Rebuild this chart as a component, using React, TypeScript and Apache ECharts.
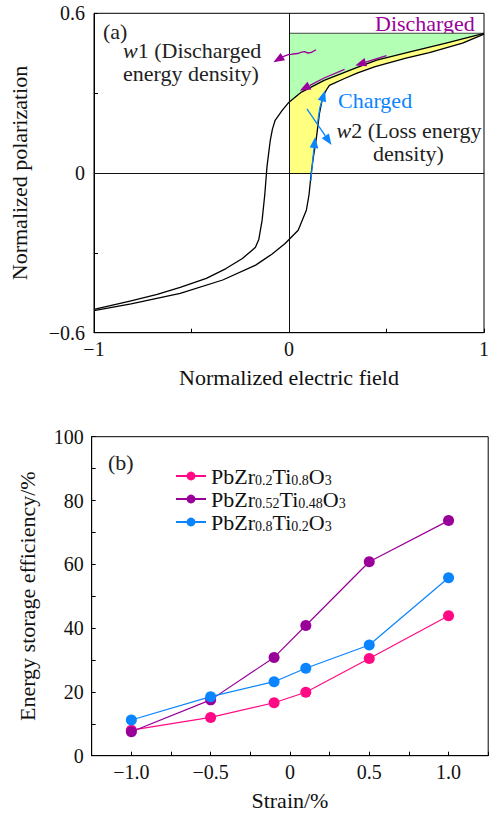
import React, { useEffect, useRef } from 'react';
import * as echarts from 'echarts';

const FONT = 'Liberation Serif';
const NAME_SIZE = 22;
const TICK_SIZE = 20;

// ---- Panel (a): hysteresis loop ----
const dischargeBranch: number[][] = [
  [1.0, 0.525], [0.8, 0.487], [0.62, 0.455], [0.45, 0.424], [0.35, 0.397],
  [0.18, 0.348], [0.064, 0.304], [0.0, 0.266], [-0.035, 0.235], [-0.071, 0.198],
  [-0.085, 0.165], [-0.096, 0.123], [-0.113, 0.023], [-0.124, -0.08], [-0.138, -0.178],
  [-0.155, -0.25], [-0.172, -0.279], [-0.189, -0.29], [-0.239, -0.321], [-0.323, -0.359],
  [-0.424, -0.396], [-0.558, -0.43], [-0.676, -0.456], [-0.81, -0.48], [-1.0, -0.512],
];
const chargeBranch: number[][] = [
  [-1.0, -0.517], [-0.81, -0.492], [-0.558, -0.452], [-0.34, -0.402], [-0.171, -0.346],
  [-0.088, -0.305], [-0.02, -0.265], [0.047, -0.215], [0.089, -0.14], [0.103, -0.08],
  [0.114, 0.0], [0.125, 0.06], [0.139, 0.123], [0.156, 0.223], [0.173, 0.285],
  [0.19, 0.31], [0.207, 0.329], [0.282, 0.354], [0.349, 0.375], [0.442, 0.4],
  [0.6, 0.432], [0.72, 0.452], [0.89, 0.488], [1.0, 0.522],
];
const pMax = 0.525;

const xTicksA = [-1, 0, 1];
const yTicksA = [-0.6, 0, 0.6];

type Arrow = { color: string; pts: number[][] };
const PURPLE = '#990099';
const BLUE = '#0a84ff';
const arrows: Arrow[] = [
  { color: PURPLE, pts: [[0.5, 0.441], [0.34, 0.404]] },
  { color: PURPLE, pts: [[0.285, 0.389], [0.18, 0.357], [0.055, 0.309]] },
  {
    color: PURPLE,
    pts: [[0.139, 0.463], [0.115, 0.453], [0.097, 0.451], [0.08, 0.456], [0.064, 0.454],
      [0.045, 0.449], [0.03, 0.448], [0.01, 0.446], [-0.004, 0.445], [-0.037, 0.435], [-0.08, 0.416]],
  },
  { color: BLUE, pts: [[0.112, -0.03], [0.122, 0.05], [0.134, 0.135]] },
  { color: BLUE, pts: [[0.147, 0.19], [0.158, 0.245], [0.185, 0.31]] },
  { color: BLUE, pts: [[0.092, 0.241], [0.218, 0.105]] },
];

// ---- Panel (b): efficiency vs strain ----
const strain = [-1.0, -0.5, -0.1, 0.1, 0.5, 1.0];
const pzt2080 = [8.0, 12.0, 16.6, 19.9, 30.5, 43.9];
const pzt5248 = [7.5, 17.5, 30.8, 40.8, 60.8, 73.7];
const pzt8020 = [11.2, 18.5, 23.2, 27.4, 34.7, 55.8];
const seriesNames = ['PbZr0.2Ti0.8O3', 'PbZr0.52Ti0.48O3', 'PbZr0.8Ti0.2O3'];
const seriesRich = [
  'PbZr{s|0.2}Ti{s|0.8}O{s|3}',
  'PbZr{s|0.52}Ti{s|0.48}O{s|3}',
  'PbZr{s|0.8}Ti{s|0.2}O{s|3}',
];
const seriesColors = ['#ff0a84', '#990099', '#0a84ff'];

const fmtNum = (v: number, digits: number) => {
  if (Math.abs(v) < 1e-9) return '0';
  return (v < 0 ? '\u2212' : '') + Math.abs(v).toFixed(digits);
};

function buildOption(): any {
  const greenPoly = [[0, pMax], [1, pMax], ...dischargeBranch.filter((p) => p[0] >= 0)];
  const yellowPoly = [
    [0, 0],
    ...chargeBranch.filter((p) => p[0] >= 0.114 && p[1] >= 0),
    ...dischargeBranch.filter((p) => p[0] >= 0).slice(1),
  ];
  const polys = [
    { pts: greenPoly, fill: '#b3ffb3' },
    { pts: yellowPoly, fill: '#ffff80' },
  ];

  const tickStyle = { show: true, inside: true, length: 4, lineStyle: { color: '#000', width: 1 } };
  const labelBase = { color: '#111', fontFamily: FONT, fontSize: TICK_SIZE };
  const nameStyle = { color: '#111', fontFamily: FONT, fontSize: NAME_SIZE };

  const data = [pzt2080, pzt5248, pzt8020];
  const txt = (x: number, y: number, text: string, fill = '#222', rich?: any) => ({
    type: 'text', x, y,
    style: {
      text, font: `${NAME_SIZE}px ${FONT}`, fontFamily: FONT, fontSize: NAME_SIZE, fill,
      verticalAlign: 'middle', textVerticalAlign: 'middle',
      ...(rich ? { rich } : {}),
    },
  });
  const italicRich = { i: { fontFamily: FONT, fontSize: NAME_SIZE, fontStyle: 'italic', fill: '#222' } };

  return {
    animation: false,
    backgroundColor: '#fff',
    textStyle: { fontFamily: FONT },
    grid: [
      { left: 92.7, top: 13.3, width: 396.3, height: 319.4, show: true, borderColor: '#000', borderWidth: 1, backgroundColor: 'transparent' },
      { left: 91.7, top: 436.7, width: 396.5, height: 319, show: true, borderColor: '#000', borderWidth: 1, backgroundColor: 'transparent' },
    ],
    xAxis: [
      {
        type: 'value', gridIndex: 0, min: -1, max: 1, interval: 0.5,
        axisLine: { show: true, onZero: false, lineStyle: { color: '#000', width: 1 } },
        axisTick: tickStyle, splitLine: { show: false },
        axisLabel: {
          ...labelBase, margin: 6,
          formatter: (v: number) => (xTicksA.some((t) => Math.abs(t - v) < 1e-6) ? fmtNum(v, 0) : ''),
        },
        name: 'Normalized electric field', nameLocation: 'middle', nameGap: 34, nameTextStyle: nameStyle,
      },
      {
        type: 'value', gridIndex: 1, min: -1.25, max: 1.25, interval: 0.25,
        axisLine: { show: true, onZero: false, lineStyle: { color: '#000', width: 1 } },
        axisTick: tickStyle, splitLine: { show: false },
        axisLabel: {
          ...labelBase, margin: 6,
          formatter: (v: number) => {
            const h = v * 2;
            if (Math.abs(h - Math.round(h)) > 1e-6) return '';
            return Math.abs(v) < 1e-9 ? '0' : fmtNum(v, 1);
          },
        },
        name: 'Strain/%', nameLocation: 'middle', nameGap: 34, nameTextStyle: nameStyle,
      },
    ],
    yAxis: [
      {
        type: 'value', gridIndex: 0, min: -0.6, max: 0.6, interval: 0.3,
        axisLine: { show: true, onZero: false, lineStyle: { color: '#000', width: 1 } },
        axisTick: tickStyle, splitLine: { show: false },
        axisLabel: {
          ...labelBase, margin: 9,
          formatter: (v: number) => (yTicksA.some((t) => Math.abs(t - v) < 1e-6) ? fmtNum(v, Math.abs(v) < 1e-9 ? 0 : 1) : ''),
        },
        name: 'Normalized polarization', nameLocation: 'middle', nameRotate: 90, nameGap: 64, nameTextStyle: nameStyle,
      },
      {
        type: 'value', gridIndex: 1, min: 0, max: 100, interval: 10,
        axisLine: { show: true, onZero: false, lineStyle: { color: '#000', width: 1 } },
        axisTick: tickStyle, splitLine: { show: false },
        axisLabel: {
          ...labelBase, margin: 8,
          formatter: (v: number) => (Math.round(v) % 20 === 0 ? String(Math.round(v)) : ''),
        },
        name: 'Energy storage efficiency/%', nameLocation: 'middle', nameRotate: 90, nameGap: 53, nameTextStyle: nameStyle,
      },
    ],
    legend: {
      orient: 'vertical', left: 170, top: 460, itemWidth: 30, itemHeight: 11, itemGap: 1,
      data: seriesNames,
      formatter: (name: string) => seriesRich[seriesNames.indexOf(name)],
      textStyle: {
        fontFamily: FONT, fontSize: NAME_SIZE, color: '#111', lineHeight: 22,
        rich: { s: { fontFamily: FONT, fontSize: 14, verticalAlign: 'bottom', lineHeight: 13 } },
      },
    },
    series: [
      {
        type: 'custom', name: 'fills', xAxisIndex: 0, yAxisIndex: 0, z: 1, silent: true,
        data: [[0, 0, 0], [0, 0, 1]], encode: { x: 0, y: 1 },
        renderItem: (params: any, api: any) => {
          const p = polys[params.dataIndex];
          return { type: 'polygon', shape: { points: p.pts.map((q) => api.coord(q)) }, style: { fill: p.fill, stroke: 'none' } };
        },
      },
      {
        type: 'line', name: 'pmax', xAxisIndex: 0, yAxisIndex: 0, z: 2, silent: true,
        data: [[0, pMax], [1, pMax]], symbol: 'none', lineStyle: { color: '#444', width: 1 },
      },
      {
        type: 'line', name: 'discharge', xAxisIndex: 0, yAxisIndex: 0, z: 3, silent: true,
        data: dischargeBranch, symbol: 'none',
        lineStyle: { color: '#000', width: 1.3, join: 'round' },
        markLine: {
          silent: true, symbol: 'none', label: { show: false },
          lineStyle: { color: '#111', width: 1, type: 'solid' },
          data: [{ xAxis: 0 }, { yAxis: 0 }],
        },
      },
      {
        type: 'line', name: 'charge', xAxisIndex: 0, yAxisIndex: 0, z: 3, silent: true,
        data: chargeBranch, symbol: 'none',
        lineStyle: { color: '#000', width: 1.3, join: 'round' },
      },
      {
        type: 'custom', name: 'arrows', xAxisIndex: 0, yAxisIndex: 0, z: 5, silent: true,
        data: arrows.map((a, i) => [a.pts[0][0], a.pts[0][1], i]), encode: { x: 0, y: 1 },
        renderItem: (params: any, api: any) => {
          const a = arrows[params.dataIndex];
          const px = a.pts.map((q) => api.coord(q));
          const tip = px[px.length - 1];
          const prev = px[px.length - 2];
          const dx = tip[0] - prev[0];
          const dy = tip[1] - prev[1];
          const L = Math.hypot(dx, dy) || 1;
          const ux = dx / L, uy = dy / L;
          const hl = 11, hw = 4.3;
          const base = [tip[0] - ux * hl, tip[1] - uy * hl];
          const shaft = px.slice(0, -1).concat([base]);
          return {
            type: 'group',
            children: [
              { type: 'polyline', shape: { points: shaft }, style: { stroke: a.color, lineWidth: 1.3, fill: 'none' } },
              {
                type: 'polygon',
                shape: { points: [tip, [base[0] - uy * hw, base[1] + ux * hw], [base[0] + uy * hw, base[1] - ux * hw]] },
                style: { fill: a.color, stroke: 'none' },
              },
            ],
          };
        },
      },
      ...seriesNames.map((n, i) => ({
        type: 'line', name: n, xAxisIndex: 1, yAxisIndex: 1, z: 4,
        data: strain.map((s, j) => [s, data[i][j]]),
        symbol: 'circle', symbolSize: 11,
        lineStyle: { color: seriesColors[i], width: 1.2 },
        itemStyle: { color: seriesColors[i] },
      })),
    ],
    graphic: [
      txt(103, 31.7, '(a)'),
      txt(123, 50.7, '{i|w}1 (Discharged', '#222', italicRich),
      txt(123, 73.3, 'energy density)'),
      txt(375, 23.3, 'Discharged', PURPLE),
      txt(338, 100, 'Charged', BLUE),
      txt(336.5, 130, '{i|w}2 (Loss energy', '#222', italicRich),
      txt(373, 153, 'density)'),
      txt(108, 462, '(b)'),
    ],
  };
}

export default function App() {
  const ref = useRef<HTMLDivElement>(null);
  useEffect(() => {
    document.body.style.margin = '0';
    if (!ref.current) return;
    const chart = echarts.init(ref.current, undefined, { renderer: 'svg' });
    chart.setOption(buildOption());
    return () => chart.dispose();
  }, []);
  return <div ref={ref} style={{ width: 492, height: 814 }} />;
}
